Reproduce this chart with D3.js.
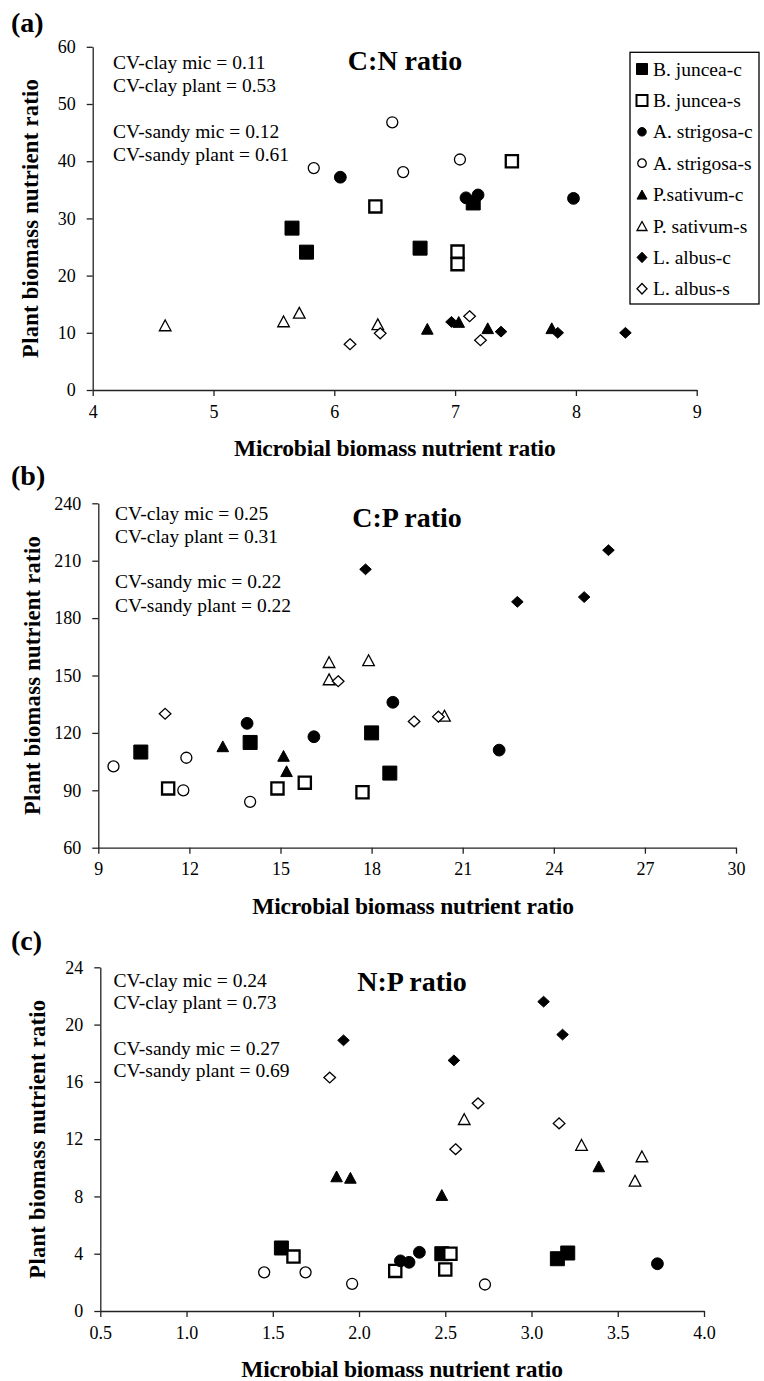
<!DOCTYPE html>
<html><head><meta charset="utf-8">
<script src="https://cdn.jsdelivr.net/npm/d3@7"></script>
<style>
body{margin:0;background:#fff}
svg{display:block}
text{font-family:"Liberation Serif","Times New Roman",serif;fill:#000}
</style>
</head><body>
<svg id="chart" width="764" height="1381"></svg>
<script>
// ---------- data ----------
const seriesNames = ["B. juncea-c","B. juncea-s","A. strigosa-c","A. strigosa-s","P.sativum-c","P. sativum-s","L. albus-c","L. albus-s"];
const seriesShapes = ["square","square","circle","circle","triangle","triangle","diamond","diamond"];
const seriesFilled = [true,false,true,false,true,false,true,false];

// (a) C:N ratio  — microbial (x) and plant (y), one inner list per series
const cnMic   = [[5.65,5.77,6.71,7.15],[6.34,7.47,7.02,7.02],[6.05,7.09,7.19,7.98],[5.83,6.48,6.57,7.04],[6.77,7.03,7.27,7.80],[4.60,5.58,5.71,6.36],[6.97,7.38,7.85,8.41],[6.13,6.38,7.12,7.21]];
const cnPlant = [[28.3,24.1,24.8,32.7],[32.1,40.0,24.2,22.0],[37.2,33.6,34.1,33.5],[38.8,46.8,38.1,40.3],[10.7,11.9,10.8,10.8],[11.3,12.0,13.5,11.5],[11.9,10.2,10.0,10.0],[8.0,9.9,12.9,8.7]];
const cnXTicks = [4,5,6,7,8,9];
const cnYTicks = [0,10,20,30,40,50,60];
const cnCV = ["CV-clay mic = 0.11","CV-clay plant = 0.53","CV-sandy mic = 0.12","CV-sandy plant = 0.61"];

// (b) C:P ratio
const cpMic   = [[10.4,14.0,18.0,18.6],[11.3,14.9,15.8,17.7],[13.9,16.1,18.7,22.2],[9.5,11.9,11.8,14.0],[13.1,15.1,15.2],[16.6,16.6,17.9,20.4],[17.8,22.8,25.0,25.8],[11.2,16.9,19.4,20.2]];
const cpPlant = [[110,115,120,99],[91,91,94,89],[125,118,136,111],[102.5,107,90,84],[113,108,100],[157,148,158,129],[205.5,188.5,191,215.5],[130,147,126,128.5]];
const cpXTicks = [9,12,15,18,21,24,27,30];
const cpYTicks = [60,90,120,150,180,210,240];
const cpCV = ["CV-clay mic = 0.25","CV-clay plant = 0.31","CV-sandy mic = 0.22","CV-sandy plant = 0.22"];

// (c) N:P ratio
const npMic   = [[1.55,2.48,3.15,3.21],[1.62,2.21,2.53,2.50],[2.24,2.29,2.35,3.73],[1.45,1.69,1.96,2.73],[1.87,1.95,2.48,3.39],[2.61,3.29,3.64,3.60],[1.91,2.55,3.07,3.18],[1.83,2.56,2.69,3.16]];
const npPlant = [[4.4,4.0,3.65,4.05],[3.8,2.8,4.0,2.9],[3.5,3.4,4.1,3.3],[2.7,2.7,1.9,1.85],[9.4,9.3,8.1,10.1],[13.4,11.6,10.8,9.1],[18.9,17.5,21.6,19.3],[16.3,11.3,14.5,13.1]];
const npXTicks = [0.5,1.0,1.5,2.0,2.5,3.0,3.5,4.0];
const npYTicks = [0,4,8,12,16,20,24];
const npCV = ["CV-clay mic = 0.24","CV-clay plant = 0.73","CV-sandy mic = 0.27","CV-sandy plant = 0.69"];

const xTitle = "Microbial biomass nutrient ratio";
const yTitle = "Plant biomass nutrient ratio";

// ---------- layout ----------
const panels = [
  {label:"(a)", title:"C:N ratio", mic:cnMic, plant:cnPlant, xt:cnXTicks, yt:cnYTicks, cv:cnCV, fmt:d3.format("d"),
   L:92.7, R:696.7, T:46.8, B:390, labelY:32, titleX:405, titleY:70, cvX:113, cvDy:[22,45,91,114], xtX:394.7, ytX:31, legend:true},
  {label:"(b)", title:"C:P ratio", mic:cpMic, plant:cpPlant, xt:cpXTicks, yt:cpYTicks, cv:cpCV, fmt:d3.format("d"),
   L:98.3, R:736, T:503.3, B:847.7, labelY:485, titleX:407, titleY:527, cvX:115, cvDy:[17,40,85,109], xtX:413, ytX:33},
  {label:"(c)", title:"N:P ratio", mic:npMic, plant:npPlant, xt:npXTicks, yt:npYTicks, cv:npCV, fmt:d3.format(".1f"),
   L:100.3, R:704, T:967.3, B:1311, labelY:950, titleX:412, titleY:991, cvX:113.5, cvDy:[20,42,88,110], xtX:402, ytX:38}
];

function markerPath(shape, w, h){
  if(shape==="square") return `M${-w/2},${-w/2}h${w}v${w}h${-w}Z`;
  if(shape==="circle"){ const p=d3.path(); p.arc(0,0,w/2,0,2*Math.PI); p.closePath(); return p.toString(); }
  if(shape==="triangle") return `M0,${-h/2}L${w/2},${h/2}L${-w/2},${h/2}Z`;
  return `M0,${-h/2}L${w/2},0L0,${h/2}L${-w/2},0Z`;
}
function markerStyle(sel, shape, filled, legend){
  const sizes = legend
    ? {square:[11,11],circle:[8.5,8.5],triangle:[10,9],diamond:[10,10.5]}
    : {square:[filled?14:12.2,0],circle:[filled?11.8:11,0],triangle:[11.6,10.8],diamond:[11.6,10.8]};
  const sw = filled ? 1 : (shape==="square" ? (legend?2:2.3) : 1.3);
  const s = sizes[shape];
  sel.attr("d", markerPath(shape, s[0], s[1]))
     .attr("fill", filled ? "#000" : "#fff")
     .attr("stroke","#000")
     .attr("stroke-width", sw)
     .attr("stroke-linejoin","miter");
}

const svg = d3.select("#chart");

panels.forEach(p => {
  const x = d3.scaleLinear().domain([p.xt[0], p.xt[p.xt.length-1]]).range([p.L, p.R]);
  const y = d3.scaleLinear().domain([p.yt[0], p.yt[p.yt.length-1]]).range([p.B, p.T]);
  const g = svg.append("g");

  // axes
  const xa = g.append("g").attr("transform",`translate(0,${p.B})`)
    .call(d3.axisBottom(x).tickValues(p.xt).tickFormat(p.fmt).tickSize(6).tickSizeOuter(0).tickPadding(9));
  const ya = g.append("g").attr("transform",`translate(${p.L},0)`)
    .call(d3.axisLeft(y).tickValues(p.yt).tickFormat(p.fmt === null ? null : d3.format("d")).tickSize(6).tickSizeOuter(0).tickPadding(11));
  [xa, ya].forEach(a => {
    a.attr("font-family", null).attr("font-size", null);
    a.selectAll("path,line").attr("stroke","#222").attr("stroke-width",1.3);
    a.selectAll("text").style("font-size","18px");
  });

  // panel label
  g.append("text").attr("x",11).attr("y",p.labelY).text(p.label)
    .style("font-size","28px").style("font-weight","bold");

  // chart title
  g.append("text").attr("x",p.titleX).attr("y",p.titleY).attr("text-anchor","middle")
    .text(p.title).style("font-size","28px").style("font-weight","bold");

  // CV annotations
  p.cv.forEach((t,i) => {
    g.append("text").attr("x",p.cvX).attr("y",p.T + p.cvDy[i]).text(t).style("font-size","19.5px");
  });

  // axis titles
  g.append("text").attr("x",p.xtX).attr("y",p.B + 66).attr("text-anchor","middle")
    .text(xTitle).style("font-size","23.5px").style("font-weight","bold").style("letter-spacing","-0.2px");
  g.append("text").attr("transform",`translate(${p.ytX},${(p.T+p.B)/2}) rotate(-90)`)
    .attr("text-anchor","middle").attr("dy","0.33em")
    .text(yTitle).style("font-size","22.5px").style("font-weight","bold").style("letter-spacing","0.3px");

  // points
  seriesNames.forEach((name, si) => {
    const pts = p.mic[si].map((v,i) => [v, p.plant[si][i]]);
    g.append("g").selectAll("path").data(pts).join("path")
      .attr("transform", d => `translate(${x(d[0])},${y(d[1])})`)
      .call(sel => markerStyle(sel, seriesShapes[si], seriesFilled[si], false));
  });

  // legend
  if(p.legend){
    const lg = g.append("g");
    lg.append("rect").attr("x",630).attr("y",52.3).attr("width",129).attr("height",251.7)
      .attr("fill","#fff").attr("stroke","#000").attr("stroke-width",1.3);
    seriesNames.forEach((name, si) => {
      const cy = 69 + si*31.4;
      lg.append("path").attr("transform",`translate(642,${cy})`)
        .call(sel => markerStyle(sel, seriesShapes[si], seriesFilled[si], true));
      lg.append("text").attr("x",653).attr("y",cy).attr("dy","0.34em").text(name).style("font-size","19.5px");
    });
  }
});
</script>
</body></html>
